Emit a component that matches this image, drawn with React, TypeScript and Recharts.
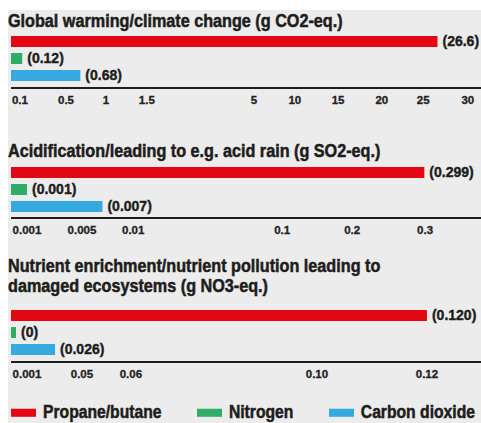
import React from 'react';
import { BarChart, Bar, XAxis, YAxis, LabelList } from 'recharts';

const seriesNames = ['Propane/butane', 'Nitrogen', 'Carbon dioxide'];
const seriesKeys = ['propane', 'nitrogen', 'co2'];
const seriesColors = ['#e30613', '#2fac66', '#36a9e1'];

const titles = [
  'Global warming/climate change (g CO2-eq.)',
  'Acidification/leading to e.g. acid rain (g SO2-eq.)',
  'Nutrient enrichment/nutrient pollution leading to\ndamaged ecosystems (g NO3-eq.)',
];

const warmingValues = [26.6, 0.12, 0.68];
const warmingLabels = ['(26.6)', '(0.12)', '(0.68)'];
const warmingTicks = [0.1, 0.5, 1, 1.5, 5, 10, 15, 20, 25, 30];
const warmingTickLabels = ['0.1', '0.5', '1', '1.5', '5', '10', '15', '20', '25', '30'];

const acidValues = [0.299, 0.001, 0.007];
const acidLabels = ['(0.299)', '(0.001)', '(0.007)'];
const acidTicks = [0.001, 0.005, 0.01, 0.1, 0.2, 0.3];
const acidTickLabels = ['0.001', '0.005', '0.01', '0.1', '0.2', '0.3'];

const nutrientValues = [0.12, 0, 0.026];
const nutrientLabels = ['(0.120)', '(0)', '(0.026)'];
const nutrientTicks = [0.001, 0.05, 0.06, 0.1, 0.12];
const nutrientTickLabels = ['0.001', '0.05', '0.06', '0.10', '0.12'];

// the axes are broken: where each tick sits along the axis (0..1)
const warmingStops = [0.019, 0.117, 0.202, 0.289, 0.517, 0.604, 0.696, 0.789, 0.877, 0.972];
const acidStops = [0.034, 0.151, 0.26, 0.577, 0.726, 0.881];
const nutrientStops = [0.034, 0.151, 0.255, 0.651, 0.885];

// piecewise linear scale through (0, 0) and every tick
const makeScale = (ticks: number[], stops: number[]) => {
  const d = [0, ...ticks];
  const r = [0, ...stops];
  return (v: number) => {
    let i = 1;
    while (i < d.length - 1 && v > d[i]) i++;
    const t = (v - d[i - 1]) / (d[i] - d[i - 1]);
    return r[i - 1] + t * (r[i] - r[i - 1]);
  };
};

const FONT = '"Liberation Sans", Arial, sans-serif';
const INK = '#1d1d1b';

type PanelProps = {
  top: number;
  height: number;
  marginTop: number;
  axisHeight: number;
  values: number[];
  labels: string[];
  ticks: number[];
  tickLabels: string[];
  stops: number[];
};

const Panel = ({ top, height, marginTop, axisHeight, values, labels, ticks, tickLabels, stops }: PanelProps) => {
  const scale = makeScale(ticks, stops);
  const row: Record<string, any> = { name: 'row' };
  seriesKeys.forEach((k, i) => {
    row[k] = scale(values[i]);
    row[k + 'Label'] = labels[i];
  });
  const tickPos = ticks.map(scale);

  const renderTick = (props: any) => (
    <text
      x={props.x}
      y={props.y + 16}
      textAnchor="middle"
      fill="#222"
      stroke="#222"
      strokeWidth={0.3}
      fontFamily={FONT}
      fontWeight="bold"
      fontSize={11.5}
    >
      {tickLabels[props.index]}
    </text>
  );

  return (
    <div style={{ position: 'absolute', left: 0, top }}>
      <BarChart
        width={473}
        height={height}
        data={[row]}
        layout="vertical"
        margin={{ top: marginTop, right: 0, bottom: 0, left: 3 }}
        barSize={11}
        barGap={6}
      >
        <XAxis
          type="number"
          domain={[0, 1]}
          ticks={tickPos}
          interval={0}
          height={axisHeight}
          axisLine={{ stroke: INK, strokeWidth: 2 }}
          tickLine={false}
          tickSize={0}
          tickMargin={0}
          tick={renderTick}
          allowDataOverflow
        />
        <YAxis type="category" dataKey="name" hide />
        {seriesKeys.map((k, i) => (
          <Bar
            key={k}
            dataKey={k}
            name={seriesNames[i]}
            fill={seriesColors[i]}
            minPointSize={5}
            isAnimationActive={false}
          >
            <LabelList
              dataKey={k + 'Label'}
              position="right"
              offset={5}
              fill={INK}
              stroke={INK}
              strokeWidth={0.4}
              fontFamily={FONT}
              fontWeight="bold"
              fontSize={14}
            />
          </Bar>
        ))}
      </BarChart>
    </div>
  );
};

// the source type is a tall condensed face, so stretch a little around the baseline
const titleStyle: React.CSSProperties = {
  position: 'absolute',
  left: 0,
  fontFamily: FONT,
  fontWeight: 'bold',
  fontSize: 16.2,
  lineHeight: '18px',
  color: INK,
  WebkitTextStroke: '0.45px ' + INK,
  whiteSpace: 'pre-line',
  transform: 'scaleY(1.12)',
  transformOrigin: '0 14.6px',
  zIndex: 1,
};

const App = () => {
  return (
    <div
      style={{
        position: 'absolute',
        left: 8,
        top: 10,
        width: 473,
        height: 413,
        background: '#ececec',
        overflow: 'hidden',
      }}
    >
      <div style={{ ...titleStyle, top: 2.4 }}>{titles[0]}</div>
      <Panel
        top={0}
        height={110}
        marginTop={18}
        axisHeight={32}
        values={warmingValues}
        labels={warmingLabels}
        ticks={warmingTicks}
        tickLabels={warmingTickLabels}
        stops={warmingStops}
      />

      <div style={{ ...titleStyle, top: 132.4 }}>{titles[1]}</div>
      <Panel
        top={130}
        height={110}
        marginTop={20}
        axisHeight={32}
        values={acidValues}
        labels={acidLabels}
        ticks={acidTicks}
        tickLabels={acidTickLabels}
        stops={acidStops}
      />

      <div style={{ ...titleStyle, top: 247.4 }}>{titles[2]}</div>
      <Panel
        top={270}
        height={112}
        marginTop={22}
        axisHeight={30}
        values={nutrientValues}
        labels={nutrientLabels}
        ticks={nutrientTicks}
        tickLabels={nutrientTickLabels}
        stops={nutrientStops}
      />

      <div
        style={{
          position: 'absolute',
          left: 3,
          right: 6,
          top: 395,
          display: 'flex',
          justifyContent: 'space-between',
          fontFamily: FONT,
          fontWeight: 'bold',
          fontSize: 15.7,
          lineHeight: '16px',
          color: INK,
          WebkitTextStroke: '0.45px ' + INK,
          transform: 'scaleY(1.15)',
          transformOrigin: '0 13.45px',
        }}
      >
        {seriesNames.map((n, i) => (
          <div key={n} style={{ display: 'flex', alignItems: 'center' }}>
            <span style={{ width: 25, height: 7, background: seriesColors[i], marginRight: 7 }} />
            <span>{n}</span>
          </div>
        ))}
      </div>
    </div>
  );
};

export default App;
